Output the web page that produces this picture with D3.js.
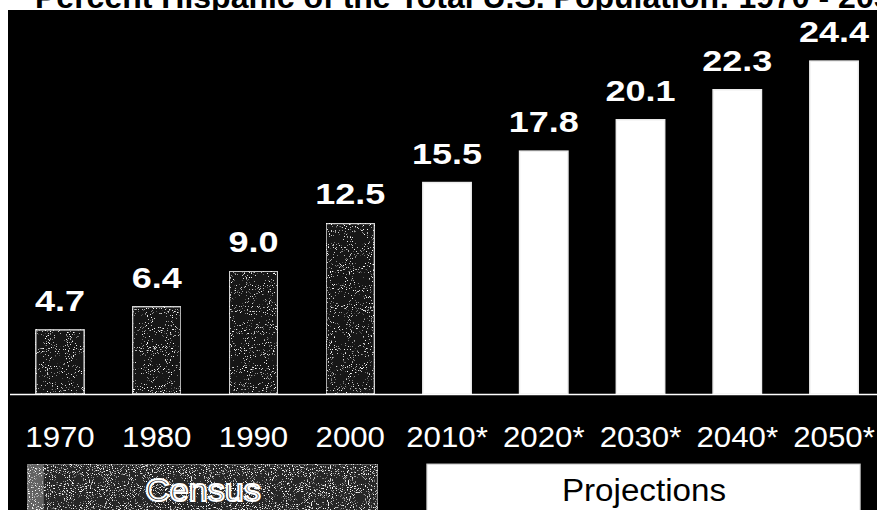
<!DOCTYPE html>
<html>
<head>
<meta charset="utf-8">
<script src="https://cdn.jsdelivr.net/npm/d3@7/dist/d3.min.js"></script>
<style>
  html, body { margin: 0; padding: 0; background: #ffffff; }
  svg { display: block; }
  text { font-family: "Liberation Sans", Arial, Helvetica, sans-serif; }
</style>
</head>
<body>
<svg id="chart" width="877" height="510"></svg>
<script>
// Percent Hispanic of the total U.S. population, census years and projections
const years = ["1970", "1980", "1990", "2000", "2010*", "2020*", "2030*", "2040*", "2050*"];
const percents = [4.7, 6.4, 9.0, 12.5, 15.5, 17.8, 20.1, 22.3, 24.4];
const sources = ["Census", "Census", "Census", "Census",
                 "Projections", "Projections", "Projections", "Projections", "Projections"];
const legendLabels = ["Census", "Projections"];
const titleText = "Percent Hispanic of the Total U.S. Population: 1970 - 2050";

const W = 877, H = 510;
const svg = d3.select("#chart");

// widen a text's glyphs horizontally by a factor
function stretch(sel, k) {
  sel.each(function () {
    const len = this.getComputedTextLength();
    d3.select(this).attr("textLength", len * k).attr("lengthAdjust", "spacingAndGlyphs");
  });
}

// speckled grey texture used for census marks
const defs = svg.append("defs");
function grainFilter(id, slope, cut, seed) {
  const f = defs.append("filter").attr("id", id)
    .attr("x", 0).attr("y", 0).attr("width", 1).attr("height", 1);
  f.append("feTurbulence").attr("type", "fractalNoise")
    .attr("baseFrequency", 0.95).attr("numOctaves", 2).attr("seed", seed).attr("result", "noise");
  f.append("feColorMatrix").attr("in", "noise").attr("type", "matrix")
    .attr("values", `0 0 0 0 1  0 0 0 0 1  0 0 0 0 1  ${slope} 0 0 0 ${cut}`)
    .attr("result", "dots");
  f.append("feComposite").attr("in", "dots").attr("in2", "SourceGraphic")
    .attr("operator", "in").attr("result", "clipped");
  const m = f.append("feMerge");
  m.append("feMergeNode").attr("in", "SourceGraphic");
  m.append("feMergeNode").attr("in", "clipped");
}
grainFilter("grainBar", 8, -5.2, 5);
grainFilter("grainKey", 7, -4.2, 11);

// title (its top runs off the page; the panel covers anything below it)
svg.append("text")
  .attr("x", 35).attr("y", 8)
  .attr("font-size", 32).attr("font-weight", "bold").attr("fill", "#000")
  .text(titleText);

// black panel
svg.append("rect")
  .attr("x", 8).attr("y", 10).attr("width", W - 8).attr("height", H - 10)
  .attr("fill", "#000");

const x = d3.scaleBand()
  .domain(years)
  .range([11.6, 882.4])
  .paddingInner(0.5)
  .paddingOuter(0.25);

const y = d3.scaleLinear()
  .domain([0, 28])
  .range([394, 12]);

const data = years.map((yr, i) => ({ year: yr, value: percents[i], source: sources[i] }));

// bars
svg.append("g").selectAll("rect")
  .data(data)
  .join("rect")
  .attr("x", d => x(d.year))
  .attr("y", d => y(d.value))
  .attr("width", x.bandwidth())
  .attr("height", d => y(0) - y(d.value))
  .attr("fill", d => d.source === "Census" ? "#141414" : "#ffffff")
  .attr("stroke", d => d.source === "Census" ? "#d0d0d0" : "#eeeeee")
  .attr("stroke-width", 1.5)
  .attr("filter", d => d.source === "Census" ? "url(#grainBar)" : null);

// value labels
const fmt = d3.format(".1f");
svg.append("g").selectAll("text")
  .data(data)
  .join("text")
  .attr("x", d => x(d.year) + x.bandwidth() / 2)
  .attr("y", d => y(d.value) - 19)
  .attr("text-anchor", "middle")
  .attr("font-size", 30).attr("font-weight", "bold")
  .attr("fill", "#ffffff")
  .text(d => fmt(d.value))
  .call(stretch, 1.2);

// baseline
svg.append("line")
  .attr("x1", 10).attr("x2", W)
  .attr("y1", y(0) + 0.5).attr("y2", y(0) + 0.5)
  .attr("stroke", "#ffffff").attr("stroke-width", 1.5);

// year axis
const xAxis = d3.axisBottom(x).tickSize(0).tickPadding(0);
const axisG = svg.append("g")
  .attr("transform", `translate(0, ${y(0)})`)
  .call(xAxis);
axisG.select(".domain").remove();
axisG.selectAll("text")
  .attr("y", 53).attr("dy", 0)
  .attr("font-size", 30)
  .attr("fill", "#ffffff")
  .style("font-family", '"Liberation Sans", Arial, sans-serif')
  .call(stretch, 1.04);

// legend boxes spanning each group of bars
const keyPad = { Census: [-8, 3], Projections: [4, 2] };
const keyG = svg.append("g");
legendLabels.forEach(lab => {
  const group = data.filter(d => d.source === lab);
  const x0 = x(group[0].year) + keyPad[lab][0];
  const x1 = x(group[group.length - 1].year) + x.bandwidth() + keyPad[lab][1];
  const isCensus = lab === "Census";
  keyG.append("rect")
    .attr("x", x0).attr("y", 464)
    .attr("width", x1 - x0).attr("height", 60)
    .attr("fill", isCensus ? "#262626" : "#ffffff")
    .attr("stroke", isCensus ? "#9a9a9a" : "#bbbbbb")
    .attr("stroke-width", 1)
    .attr("filter", isCensus ? "url(#grainKey)" : null);
  if (isCensus) {
    keyG.append("rect")
      .attr("x", x0).attr("y", 464).attr("width", 16).attr("height", 60)
      .attr("fill", "#8a8a8a").attr("opacity", 0.6)
      .attr("filter", "url(#grainKey)");
  }
  const t = keyG.append("text")
    .attr("x", isCensus ? 203 : 644)
    .attr("y", 501)
    .attr("text-anchor", "middle")
    .attr("font-size", 31)
    .attr("fill", "#000000")
    .attr("stroke", isCensus ? "#ffffff" : "none")
    .attr("stroke-width", isCensus ? 2 : 0)
    .text(lab);
  t.call(stretch, isCensus ? 1.1 : 1.07);
});
</script>
</body>
</html>
